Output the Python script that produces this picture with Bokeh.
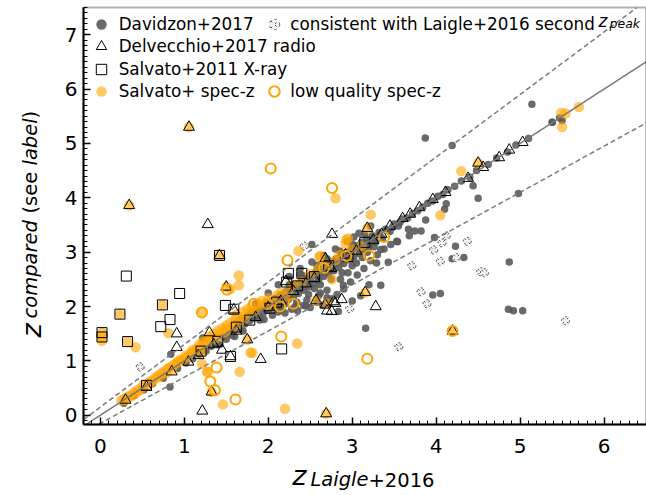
import numpy as np
from bokeh.plotting import figure
from bokeh.models import (Range1d, SingleIntervalTicker, Legend, LegendItem, Label,
                          ColumnDataSource, BoxAnnotation)
from bokeh.embed import file_html
from bokeh.resources import INLINE

# ---------------- data ----------------
davidzon = [
    (0.28,0.22),(0.40,0.36),(0.52,0.47),(0.62,0.58),(0.75,0.68),(0.83,0.52),(0.84,1.12),(0.92,0.86),
    (1.02,0.96),(1.10,1.04),(1.18,1.12),(1.22,1.42),(1.26,1.18),(1.32,1.27),(1.38,1.33),(1.42,1.30),
    (1.46,1.44),(1.50,1.40),(1.53,1.50),(1.57,1.47),(1.60,1.58),(1.63,1.70),(1.66,1.60),(1.69,1.78),
    (1.72,1.68),(1.75,1.82),(1.78,1.74),(1.80,1.88),(1.83,1.79),(1.86,1.93),(1.88,1.84),(1.91,1.98),
    (1.94,1.88),(1.97,2.05),(2.00,1.93),(2.03,2.10),(2.06,1.98),(2.09,2.15),(2.12,2.03),(2.15,2.21),
    (2.18,2.08),(2.21,2.27),(2.24,2.13),(2.27,2.33),(2.30,2.18),(2.33,2.40),(2.36,2.24),(2.39,2.46),
    (2.42,2.30),(2.45,2.52),(2.48,2.36),(2.51,2.58),(2.54,2.42),(2.57,2.64),(2.60,2.48),(2.63,2.70),
    (2.66,2.55),(2.69,2.76),(2.72,2.60),(2.75,2.82),(2.78,2.66),(2.81,2.88),(2.84,2.72),(2.87,2.94),
    (2.90,2.79),(2.93,3.00),(2.96,2.86),(2.99,3.06),(3.02,2.92),(3.05,3.12),(3.08,2.98),(3.11,3.18),
    (3.14,3.05),(3.17,3.24),(3.20,3.10),(3.24,3.30),(3.28,3.18),(3.32,3.36),(3.36,3.25),(3.40,3.42),
    (3.45,3.38),(3.50,3.52),(3.55,3.48),(3.60,3.61),(3.66,3.63),(3.72,3.71),(3.78,3.76),(3.84,3.83),
    (3.90,3.90),(3.96,3.94),(4.02,4.03),(4.08,4.06),(4.14,4.15),(4.22,4.21),(4.30,4.31),(4.40,4.38),
    (4.48,4.50),(4.62,4.61),(4.72,4.73),(4.85,4.84),(4.95,4.97),(5.10,5.09),(5.38,5.39),(5.50,5.42),
    (5.47,5.47),
    (1.95,1.76),(2.05,1.84),(2.12,1.90),(2.20,1.88),(2.28,1.95),(2.35,1.92),(2.42,2.02),(2.50,1.98),
    (2.58,2.08),(2.65,2.03),(2.74,2.14),(2.82,2.22),(2.90,2.32),(2.98,2.45),(3.06,2.58),(3.14,2.70),
    (3.22,2.84),(3.30,2.95),(3.38,3.06),(3.46,3.14),(2.25,2.55),(2.38,2.70),(2.52,2.82),(2.66,2.94),
    (2.80,3.06),(2.94,3.20),(3.08,3.35),(3.22,3.48),(2.00,2.25),(2.12,2.40),(1.85,2.05),(2.62,2.40),
    (2.75,2.50),(2.88,2.62),(3.00,2.75),(3.12,2.90),(2.48,2.22),(2.34,2.08),(2.20,2.05),(2.55,2.33),
    (2.70,2.30),(3.02,3.28),
    (2.02,2.00),(2.08,2.05),(2.14,2.12),(2.22,2.18),(2.28,2.24),(2.36,2.33),(2.44,2.40),(2.50,2.48),
    (2.58,2.55),(2.64,2.62),(2.72,2.68),(2.80,2.78),(2.86,2.84),(2.94,2.92),(3.00,3.00),(3.06,3.05),
    (3.13,3.12),(3.19,3.17),(3.26,3.24),(3.33,3.31),(3.42,3.40),(3.48,3.46),(3.57,3.55),(2.16,1.95),
    (2.32,2.00),(2.46,2.12),(2.60,2.20),(2.86,2.50),(3.05,2.80),(3.18,3.00),(3.26,3.10),(3.10,2.20),
    (3.20,2.40),(3.00,2.10),(1.70,1.55),(1.60,1.45),(1.90,1.75),(2.25,2.40),(2.40,2.58),(2.58,2.76),
    (2.70,2.88),(2.85,3.02),(3.00,3.15),(3.15,3.32),
    (5.14,5.72),(3.87,5.10),(4.19,4.96),(4.98,4.08),(4.50,3.99),(4.44,4.22),(4.12,3.89),(4.10,3.79),
    (3.875,3.59),(3.745,3.39),(3.67,3.42),(3.54,3.19),(3.98,3.27),(4.23,3.11),(4.33,2.90),(4.19,2.88),
    (4.87,2.82),(3.34,2.39),(3.96,2.21),(4.05,2.24),(2.895,2.39),(2.62,2.25),(2.70,2.16),(3.34,3.05),
    (3.43,2.815),(3.29,2.80),(2.95,2.62),(4.86,1.95),(4.92,1.92),(5.03,1.92),(3.16,1.60),(2.835,1.91),
    (2.45,2.01),(3.53,3.20),(3.68,3.30),(3.82,3.39),(2.52,3.14),(2.38,2.59),(2.46,2.45),(5.385,5.39),
]

second_peak = [
    (4.12,3.30),(4.07,3.17),(4.37,3.20),(3.97,3.04),(4.05,2.83),(4.24,2.90),(3.71,2.75),(4.53,2.64),
    (4.575,2.62),(3.82,2.27),(3.89,2.05),(2.97,1.96),(3.555,1.26),(5.54,1.74),(0.475,0.89),(2.43,3.11),
]

specz = [
    (0.25,0.27),(0.28,0.30),(0.30,0.28),(0.32,0.33),(0.35,0.36),(0.37,0.35),(0.40,0.42),(0.42,0.40),
    (0.45,0.47),(0.48,0.46),(0.50,0.52),(0.52,0.55),(0.55,0.54),(0.58,0.60),(0.60,0.63),(0.62,0.61),
    (0.65,0.68),(0.68,0.72),(0.70,0.70),(0.72,0.76),(0.75,0.80),(0.78,0.77),(0.80,0.85),(0.82,0.88),
    (0.85,0.84),(0.87,0.92),(0.90,0.95),(0.92,0.98),(0.95,1.02),(0.97,1.00),(1.00,1.05),(1.02,1.10),
    (1.05,1.08),(1.08,1.15),(1.10,1.20),(1.12,1.18),(1.15,1.22),(1.18,1.30),(1.20,1.25),(1.22,1.35),
    (1.25,1.32),(1.28,1.40),(1.30,1.45),(1.32,1.38),(1.35,1.50),(1.38,1.42),(1.40,1.55),(1.42,1.48),
    (1.45,1.60),(1.48,1.52),(1.50,1.65),(1.52,1.58),(1.55,1.70),(1.58,1.62),(1.60,1.75),(1.62,1.85),
    (1.65,1.68),(1.68,1.80),(1.70,1.90),(1.72,1.78),(1.75,1.95),(1.78,1.88),(1.80,2.00),(1.85,1.92),
    (1.88,2.05),(1.92,2.10),(1.95,2.02),(2.00,2.15),(2.05,2.08),(2.10,2.20),(2.15,2.25),(2.20,2.18),
    (2.25,2.30),(2.30,2.38),(2.40,2.45),(2.50,2.60),(2.60,2.70),(2.70,2.75),(2.85,2.95),(3.00,3.05),
    (1.056,5.30),(0.344,3.86),(1.42,2.94),(2.80,3.99),(3.22,3.69),(3.18,3.44),(2.36,3.02),(1.65,2.57),
    (1.65,2.39),(1.50,2.36),(0.74,2.03),(0.234,1.86),(0.02,1.52),(0.02,1.44),(0.02,1.37),(0.325,1.355),
    (0.42,1.25),(0.81,1.51),(1.22,1.90),(2.345,1.32),(1.81,1.15),(1.66,0.80),(1.28,0.80),(1.325,0.43),
    (1.46,0.20),(2.20,0.12),(2.69,0.03),(1.75,1.39),(4.50,4.64),(4.30,4.49),(4.05,3.68),(5.70,5.67),
    (5.49,5.56),(5.54,5.55),(5.50,5.30),(3.155,2.26),(2.57,2.11),(2.70,2.06),(4.195,1.55),(2.95,3.25),
    (2.92,3.16),(2.61,2.91),(2.80,2.85),(2.76,2.50),(3.11,3.11),(2.93,3.23),(1.55,2.32),(2.62,2.93),
    (1.21,0.95),(1.27,0.80),(1.79,1.15),(1.21,1.17),
]

radio = [
    (1.056,5.30),(0.344,3.86),(1.28,3.51),(1.42,2.94),(2.76,3.33),(2.68,2.88),(3.18,3.44),(1.50,2.36),
    (0.91,1.50),(0.91,1.25),(1.91,1.03),(1.215,0.08),(1.325,0.43),(2.69,0.03),(1.75,1.39),(3.28,2.00),
    (2.875,2.13),(2.70,1.92),(2.755,1.91),(2.80,2.06),(2.78,2.09),(2.68,2.03),(3.155,2.26),(2.57,2.11),
    (4.195,1.55),(5.03,5.02),(4.87,4.88),(4.75,4.74),(4.56,4.56),(4.50,4.64),(4.38,4.36),(4.11,4.10),
    (3.96,3.97),(3.80,3.82),(3.69,3.70),(3.45,3.48),(3.60,3.62),(3.35,3.33),(3.25,3.22),(3.05,3.02),
    (2.92,2.95),(2.45,2.42),(2.30,2.28),(2.15,2.10),(2.00,1.98),(2.21,2.46),(1.59,1.94),(1.55,1.08),
    (0.30,0.28),(0.55,0.52),(0.85,0.80),(1.05,0.98),(1.17,1.10),(1.35,1.30),(1.62,1.55),(1.85,1.80),
    (2.55,2.52),(2.75,2.70),(1.30,1.52),(1.45,1.20),
]

xray = [
    (0.31,2.56),(0.945,2.24),(0.72,1.63),(0.83,1.76),(1.49,2.02),(2.24,2.61),(2.40,2.61),(2.16,1.22),
    (0.02,1.52),(0.02,1.44),(0.234,1.86),(0.325,1.355),(0.74,2.03),(1.42,2.94),(1.59,1.95),(1.55,1.08),
    (1.62,1.62),(1.78,1.75),(2.02,1.97),(2.22,2.45),(2.35,2.38),(2.55,2.55),(2.72,2.75),(2.95,2.92),
    (3.15,3.18),(1.40,1.36),(1.20,1.18),(2.10,2.08),(0.55,0.55),
]

lowq = [
    (2.03,4.54),(2.76,4.18),(2.23,2.85),(1.51,2.31),(1.21,1.89),(2.155,1.45),(1.385,0.88),(1.31,0.62),
    (1.365,0.46),(1.61,0.29),(3.18,1.04),(4.195,1.55),(3.38,3.28),(3.20,2.94),(2.665,2.71),(1.83,2.05),
    (2.14,2.00),(2.30,2.05),(2.93,2.93),(1.99,2.05),
]

x_ticks = [0, 1, 2, 3, 4, 5, 6]
y_ticks = [0, 1, 2, 3, 4, 5, 6, 7]
x_lim = (-0.2, 6.5)
y_lim = (-0.17, 7.5)
scatter_frac = 0.15

# ---------------- layout geometry (pixels) ----------------
W, H = 646, 495
BOX_L, BOX_R, BOX_T, BOX_B = 83, 645.6, 7, 424   # axes box in page pixels
sx_per = (BOX_R - BOX_L) / (x_lim[1] - x_lim[0])
sy_per = (BOX_B - BOX_T) / (y_lim[1] - y_lim[0])
view_x = (x_lim[0] - BOX_L / sx_per, x_lim[1] + (W - BOX_R) / sx_per)
view_y = (y_lim[0] - (H - BOX_B) / sy_per, y_lim[1] + BOX_T / sy_per)

def src(pairs):
    return ColumnDataSource(dict(x=[a for a, b in pairs], y=[b for a, b in pairs]))

FONT = "DejaVu Sans"
GRAY = "#5a5a5a"
ORANGE = "#FFA500"

p = figure(width=W, height=H, output_backend="svg", toolbar_location=None, title=None,
           x_range=Range1d(*view_x), y_range=Range1d(*view_y), min_border=0)
p.grid.visible = False
p.outline_line_color = None
p.background_fill_color = "white"
p.border_fill_color = "white"

p.xaxis.fixed_location = y_lim[0]
p.xaxis.bounds = x_lim
p.yaxis.fixed_location = x_lim[0]
p.yaxis.bounds = y_lim
for ax in (p.xaxis[0], p.yaxis[0]):
    ax.ticker = SingleIntervalTicker(interval=1, num_minor_ticks=10)
    ax.axis_line_color = "black"
    ax.axis_line_width = 2
    ax.major_tick_in = 7
    ax.major_tick_out = 0
    ax.minor_tick_in = 4
    ax.minor_tick_out = 0
    ax.major_tick_line_width = 1.5
    ax.minor_tick_line_width = 1
    ax.major_label_text_font = FONT
    ax.major_label_text_font_size = "20px"
    ax.major_label_text_color = "black"
p.xaxis.major_label_standoff = 14
p.yaxis.major_label_standoff = 6

# axes box
p.add_layout(BoxAnnotation(left=x_lim[0], right=x_lim[1], bottom=y_lim[0], top=y_lim[1],
                           fill_alpha=0, line_color="black", line_width=2, level="overlay"))

# data
r_dav = p.scatter("x", "y", source=src(davidzon), size=7.5, fill_color=GRAY, fill_alpha=0.9, line_color=None)
r_sec = p.scatter("x", "y", source=src(second_peak), marker="circle_x", size=8, fill_color="#f2f2f2",
                  line_color="#444444", line_dash="dotted", line_width=1)
r_spz = p.scatter("x", "y", source=src(specz), size=10.5, fill_color=ORANGE, fill_alpha=0.6, line_color=None)
r_rad = p.scatter("x", "y", source=src(radio), marker="triangle", size=11, fill_color=None,
                  line_color="black", line_width=1)
r_xr = p.scatter("x", "y", source=src(xray), marker="square", size=10, fill_color=None,
                 line_color="black", line_width=1)
r_lq = p.scatter("x", "y", source=src(lowq), size=10, fill_color=None, line_color=ORANGE, line_width=2)

# reference lines, kept inside the axes box
xx = np.linspace(x_lim[0], x_lim[1], 400)
for k, dash in ((0.0, "solid"), (scatter_frac, "5 3"), (-scatter_frac, "5 3")):
    yy = xx + k * (1 + xx)
    m = (yy >= y_lim[0]) & (yy <= y_lim[1])
    p.line(xx[m], yy[m], line_color="#7a7a7a", line_width=1.5, line_dash=dash)

# legends (one per row so the two-column layout can be matched)
def add_legend(label, rend, left, center_y, standoff):
    box = 26
    lg = Legend(items=[LegendItem(label=label, renderers=[rend])],
                location=(left, H - center_y - box / 2),
                glyph_width=box, glyph_height=box, label_height=box, label_width=10,
                padding=0, margin=0, spacing=0, label_standoff=standoff,
                border_line_alpha=0, background_fill_alpha=0,
                label_text_font=FONT, label_text_font_size="16.8px", label_text_color="black")
    p.add_layout(lg, "center")

add_legend("Davidzon+2017", r_dav, 87.7, 23.5, 5)
add_legend("Delvecchio+2017 radio", r_rad, 87.7, 46.3, 5)
add_legend("Salvato+2011 X-ray", r_xr, 87.7, 68.8, 5)
add_legend("Salvato+ spec-z", r_spz, 87.7, 90.5, 5)
add_legend("consistent with Laigle+2016 second", r_sec, 261.3, 23.5, 3)
add_legend("low quality spec-z", r_lq, 261.3, 90.5, 3)

BASE_SHIFT = 8  # horizontal labels render this much below their requested baseline

def lab(text, x, y, size, style="normal", angle=0.0, shift=True):
    yy_ = H - y + (BASE_SHIFT if shift else 0)
    p.add_layout(Label(x=x, y=yy_, x_units="screen", y_units="screen", text=text, angle=angle,
                       text_font=FONT, text_font_size=size, text_font_style=style,
                       text_color="black", text_align="left", text_baseline="alphabetic"))

# subscript of the legend entry (baselines in page pixels)
lab("z", 598, 28, "16.8px", "italic")
lab("peak", 609, 31, "12.5px", "italic")

# x axis label
lab("z", 291.7, 483, "27px", "italic")
lab("Laigle", 310, 487, "19.5px", "italic")
lab("+2016", 368, 487, "19.5px")

# y axis label (rotated)
ang = np.pi / 2
lab("z", 31, 337, "27px", "italic", ang, False)
lab("compared", 30, 318, "19.5px", "italic", ang, False)
lab("(see ", 30, 213, "19.5px", "normal", ang, False)
lab("label", 30, 165, "19.5px", "italic", ang, False)
lab(")", 30, 118, "19.5px", "normal", ang, False)

open("out.html", "w").write(file_html(p, INLINE))
